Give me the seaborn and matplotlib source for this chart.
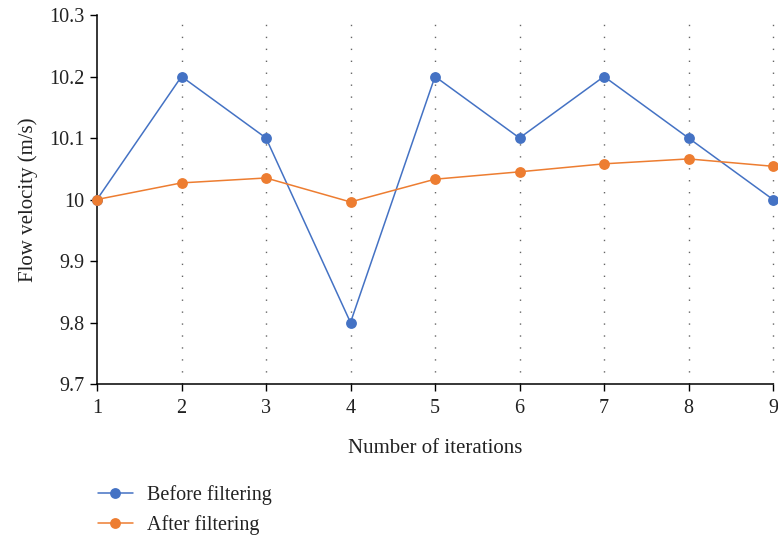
import numpy as np
import pandas as pd
import matplotlib
matplotlib.use("Agg")
import matplotlib.pyplot as plt
import seaborn as sns

iterations = [1, 2, 3, 4, 5, 6, 7, 8, 9]
before_filtering = [10.0, 10.2, 10.1, 9.8, 10.2, 10.1, 10.2, 10.1, 10.0]
after_filtering = [10.0, 10.027, 10.035, 9.996, 10.033, 10.045, 10.058, 10.066, 10.054]
series_names = ["Before filtering", "After filtering"]
y_ticks = [9.7, 9.8, 9.9, 10.0, 10.1, 10.2, 10.3]
y_tick_labels = ["9.7", "9.8", "9.9", "10", "10.1", "10.2", "10.3"]

df = pd.DataFrame({
    "Iteration": iterations * 2,
    "Velocity": before_filtering + after_filtering,
    "Series": [series_names[0]] * len(iterations) + [series_names[1]] * len(iterations),
})

sns.set_theme(style="white")
plt.rcParams["font.family"] = ["Liberation Serif", "DejaVu Serif"]

fig = plt.figure(figsize=(7.78, 5.4), dpi=100)
ax = fig.add_axes([97 / 778, 1 - 384 / 540, (773 - 97) / 778, (384 - 15) / 540])

palette = {series_names[0]: "#4472C4", series_names[1]: "#ED7D31"}
sns.lineplot(data=df, x="Iteration", y="Velocity", hue="Series", palette=palette,
             marker="o", markersize=7.8, markeredgewidth=0, linewidth=1.1,
             ax=ax, clip_on=False, zorder=3)

# dotted vertical guides at each iteration
for x in iterations[1:]:
    ax.axvline(x, color="#666666", linestyle=(0, (1, 7.6)), linewidth=1.0,
               zorder=1, clip_on=False)

ax.set_xlim(1, 9)
ax.set_ylim(9.7, 10.3)
ax.set_xticks(iterations)
ax.set_xticklabels([str(i) for i in iterations])
ax.set_yticks(y_ticks)
ax.set_yticklabels(y_tick_labels)
ax.tick_params(axis="both", direction="out", length=5, width=1, color="black",
               labelsize=14.5, labelcolor="#222222", pad=4)
ax.tick_params(axis="x", bottom=True, pad=6)
ax.tick_params(axis="y", left=True)

for side in ["top", "right"]:
    ax.spines[side].set_visible(False)
for side in ["left", "bottom"]:
    ax.spines[side].set_color("black")
    ax.spines[side].set_linewidth(1.1)

ax.set_xlabel("Number of iterations", fontsize=15, color="#222222", labelpad=15)
ax.set_ylabel("Flow velocity (m/s)", fontsize=15, color="#222222", labelpad=8)

handles, labels = ax.get_legend_handles_labels()
ax.legend(handles, labels, loc="upper left", bbox_to_anchor=(-0.026, -0.226),
          frameon=False, fontsize=14.5, handlelength=1.75, labelspacing=0.5,
          handletextpad=0.7, labelcolor="#222222")

fig.savefig("out.png", dpi=100)
